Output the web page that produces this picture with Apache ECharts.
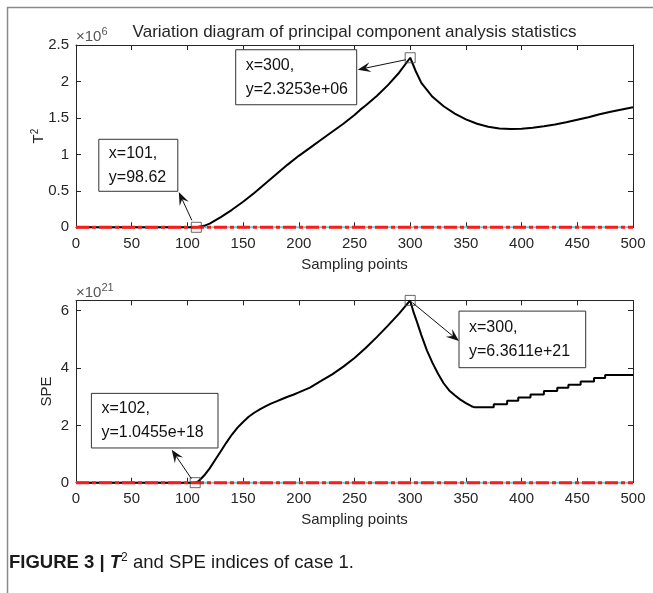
<!DOCTYPE html>
<html><head><meta charset="utf-8">
<script src="https://cdn.jsdelivr.net/npm/echarts@6/dist/echarts.min.js"></script>
<style>html,body{margin:0;padding:0;background:#fff}#c{width:653px;height:593px}</style>
</head><body><div id="c"></div>
<script>
// ---------- data ----------
const xTicks = [0, 50, 100, 150, 200, 250, 300, 350, 400, 450, 500];
const t2Ticks = [0, 0.5, 1, 1.5, 2, 2.5];           // ×10^6
const speTicks = [0, 2, 4, 6];                       // ×10^21

// T² statistic (×10^6)
const t2X = [0, 50, 100, 108, 115, 120, 130, 140, 150, 160, 170, 180, 190, 200, 210, 220, 230, 240, 250, 255, 260, 270, 280, 290, 300,
             305, 310, 320, 330, 340, 350, 360, 370, 380, 390, 400, 410, 420, 430, 440, 450, 460, 470, 480, 490, 500];
const t2Values = [0, 0, 0.0001, 0.0001, 0.02, 0.05, 0.14, 0.24, 0.35, 0.47, 0.6, 0.73, 0.86, 0.98, 1.09, 1.2, 1.31, 1.42, 1.54, 1.61, 1.67, 1.8, 1.95, 2.12, 2.3253,
             2.14, 1.98, 1.79, 1.66, 1.56, 1.48, 1.42, 1.38, 1.355, 1.348, 1.352, 1.365, 1.385, 1.41, 1.44, 1.475, 1.51, 1.55, 1.585, 1.615, 1.645];

// SPE statistic (×10^21)
const speX = [0, 100, 107, 110, 115, 120, 125, 130, 135, 140, 145, 150, 155, 160, 165, 170, 175, 180, 185, 190, 195, 200, 210, 220, 230, 240, 250, 260, 270, 280, 290, 300,
              303, 306, 310, 315, 320, 325, 330, 335, 340, 345, 350, 355, 358, 375,
              375, 387, 387, 397, 397, 408, 408, 420, 420, 432, 432, 442, 442, 453, 453, 465, 465, 475, 475, 500];
const speValues = [0, 0, 0.001, 0.05, 0.25, 0.5, 0.8, 1.1, 1.4, 1.68, 1.92, 2.12, 2.3, 2.44, 2.56, 2.66, 2.76, 2.84, 2.92, 3.0, 3.07, 3.15, 3.32, 3.55, 3.78, 4.05, 4.35, 4.7, 5.08, 5.48, 5.9, 6.3611,
              5.95, 5.62, 5.15, 4.62, 4.18, 3.8, 3.47, 3.22, 3.05, 2.9, 2.78, 2.67, 2.63, 2.63,
              2.74, 2.74, 2.86, 2.86, 2.97, 2.97, 3.08, 3.08, 3.2, 3.2, 3.31, 3.31, 3.42, 3.42, 3.53, 3.53, 3.65, 3.65, 3.76, 3.76];

// control limits (drawn at ~0 on these scales)
const limitX = [0, 500];
const t2Limit = [0, 0];
const speLimit = [0, 0];

// data tips
const t2TipX = [108, 300];
const t2TipY = [0.0000986, 2.3253];
const t2TipText = [['x=101,', 'y=98.62'], ['x=300,', 'y=2.3253e+06']];
const speTipX = [107, 300];
const speTipY = [0.0010455, 6.3611];
const speTipText = [['x=102,', 'y=1.0455e+18'], ['x=300,', 'y=6.3611e+21']];

// ---------- style / layout ----------
const FONT = 'Liberation Sans, Arial, Helvetica, sans-serif';
const INK = '#262626';
const pairs = (xs, ys) => xs.map((x, i) => [x, ys[i]]);

const gridTop = {left: 76, top: 45, width: 557, height: 182.3};
const gridBot = {left: 76, top: 300.4, width: 557, height: 182.3};

function xAx(gi, bottom) {
  return {
    type: 'value', gridIndex: gi, min: 0, max: 500, interval: 50,
    position: bottom ? 'bottom' : 'top',
    axisLine: {show: true, onZero: false, lineStyle: {color: INK, width: 1}},
    axisTick: {show: true, inside: true, length: 5, lineStyle: {color: INK}},
    axisLabel: {show: bottom, fontSize: 15, color: INK, fontFamily: FONT, margin: 9},
    splitLine: {show: false},
    name: bottom ? 'Sampling points' : '', nameLocation: 'middle', nameGap: 30, nameMoveOverlap: false,
    nameTextStyle: {fontSize: 15, color: INK, fontFamily: FONT}
  };
}
function yAx(gi, left, max, ticks, name, nameGap) {
  return {
    type: 'value', gridIndex: gi, min: 0, max: max,
    position: left ? 'left' : 'right',
    axisLine: {show: true, onZero: false, lineStyle: {color: INK, width: 1}},
    axisTick: {show: true, inside: true, length: 5, customValues: ticks, lineStyle: {color: INK}},
    axisLabel: {show: left, customValues: ticks, fontSize: 15, color: INK, fontFamily: FONT, margin: 7},
    splitLine: {show: false},
    name: left ? name : '', nameLocation: 'middle', nameGap: nameGap, nameRotate: 90, nameMoveOverlap: false,
    nameTextStyle: {fontSize: 15, color: INK, fontFamily: FONT,
      rich: {t: {fontSize: 15, color: INK, fontFamily: FONT}, s: {fontSize: 10, color: INK, fontFamily: FONT, verticalAlign: 'top', padding: [0, 0, 8, 0]}}}
  };
}

const chart = echarts.init(document.getElementById('c'), null, {renderer: 'canvas'});

const dashRed = {color: '#ff1a1a', width: 3, type: [13, 3, 4, 3]};

chart.setOption({
  animation: false,
  backgroundColor: '#fff',
  grid: [gridTop, gridBot],
  xAxis: [xAx(0, true), xAx(0, false), xAx(1, true), xAx(1, false)],
  yAxis: [
    yAx(0, true, 2.5, t2Ticks, '{t|T}{s|2}', 28),
    yAx(0, false, 2.5, t2Ticks, '', 0),
    yAx(1, true, 6.3611, speTicks, 'SPE', 22),
    yAx(1, false, 6.3611, speTicks, '', 0)
  ],
  series: [
    {type: 'line', xAxisIndex: 0, yAxisIndex: 0, data: pairs(limitX, t2Limit), symbol: 'none', clip: false, z: 2,
     lineStyle: {color: '#5fd3d8', width: 2}},
    {type: 'line', xAxisIndex: 0, yAxisIndex: 0, data: pairs(t2X, t2Values), symbol: 'none', clip: false, z: 3,
     lineStyle: {color: '#000', width: 2}},
    {type: 'line', xAxisIndex: 0, yAxisIndex: 0, data: pairs(limitX, t2Limit), symbol: 'none', clip: false, z: 4,
     lineStyle: dashRed},
    {type: 'scatter', xAxisIndex: 0, yAxisIndex: 0, data: pairs(t2TipX, t2TipY), symbol: 'rect', symbolSize: 10, z: 5,
     itemStyle: {color: 'rgba(0,0,0,0)', borderColor: '#444', borderWidth: 1}},

    {type: 'line', xAxisIndex: 2, yAxisIndex: 2, data: pairs(limitX, speLimit), symbol: 'none', clip: false, z: 2,
     lineStyle: {color: '#5fd3d8', width: 2}},
    {type: 'line', xAxisIndex: 2, yAxisIndex: 2, data: pairs(speX, speValues), symbol: 'none', clip: false, z: 3,
     lineStyle: {color: '#000', width: 2}},
    {type: 'line', xAxisIndex: 2, yAxisIndex: 2, data: pairs(limitX, speLimit), symbol: 'none', clip: false, z: 4,
     lineStyle: dashRed},
    {type: 'scatter', xAxisIndex: 2, yAxisIndex: 2, data: pairs(speTipX, speTipY), symbol: 'rect', symbolSize: 10, z: 5,
     itemStyle: {color: 'rgba(0,0,0,0)', borderColor: '#444', borderWidth: 1}}
  ]
});

// ---------- annotations (boxes placed relative to the data-tip anchors) ----------
const tipLayouts = [
  {grid: 0, box: [-97.5, -88, 79, 52], from: [-4.5, -7], to: [-17.5, -35.3]},
  {grid: 0, box: [-174.5, -8, 121, 55], from: [-4.5, 2], to: [-52.5, 12]},
  {grid: 1, box: [-103.8, -89.3, 126.6, 54.6], from: [-3.8, -4], to: [-23.5, -33]},
  {grid: 1, box: [48.8, 10.7, 126.7, 56.6], from: [2.2, 2.3], to: [48.8, 40.7]}
];
const tipSources = [
  [t2TipX[0], t2TipY[0], t2TipText[0]],
  [t2TipX[1], t2TipY[1], t2TipText[1]],
  [speTipX[0], speTipY[0], speTipText[0]],
  [speTipX[1], speTipY[1], speTipText[1]]
];

function arrowEls(x1, y1, x2, y2) {
  const ang = Math.atan2(y2 - y1, x2 - x1);
  const L = 13, Wd = 5, notch = 8;
  const c = Math.cos(ang), s = Math.sin(ang);
  const back = (d, off) => [x2 - d * c - off * s, y2 - d * s + off * c];
  return [
    {type: 'line', shape: {x1, y1, x2: back(notch, 0)[0], y2: back(notch, 0)[1]}, style: {stroke: '#111', lineWidth: 1}, z: 100},
    {type: 'polygon', shape: {points: [[x2, y2], back(L, Wd), back(notch, 0), back(L, -Wd)]}, style: {fill: '#111'}, z: 100}
  ];
}

const g = [];
tipSources.forEach((src, i) => {
  const lay = tipLayouts[i];
  const p = chart.convertToPixel({gridIndex: lay.grid}, [src[0], src[1]]);
  const [dx, dy, w, h] = lay.box;
  const bx = p[0] + dx, by = p[1] + dy;
  g.push({type: 'rect', shape: {x: bx, y: by, width: w, height: h}, style: {fill: '#fff', stroke: '#333', lineWidth: 1}, z: 90});
  g.push({type: 'text', x: bx + 10, y: by + h / 2, z: 91,
    style: {text: src[2].join('\n'), font: '16px ' + FONT, fill: '#111', lineHeight: 24, verticalAlign: 'middle', textAlign: 'left'}});
  g.push(...arrowEls(p[0] + lay.from[0], p[1] + lay.from[1], p[0] + lay.to[0], p[1] + lay.to[1]));
});

// title, exponent labels, frame and caption
g.push({type: 'text', x: 354.5, y: 32, z: 50,
  style: {text: 'Variation diagram of principal component analysis statistics', font: '17px ' + FONT, fill: INK, textAlign: 'center', verticalAlign: 'middle'}});
g.push({type: 'text', x: 76, y: 37, z: 50,
  style: {text: '{a|×10}{b|6}', verticalAlign: 'middle', rich: {a: {font: '15px ' + FONT, fill: '#555'}, b: {font: '11px ' + FONT, fill: '#555', verticalAlign: 'top', padding: [0, 0, 10, 0]}}}});
g.push({type: 'text', x: 76, y: 293, z: 50,
  style: {text: '{a|×10}{b|21}', verticalAlign: 'middle', rich: {a: {font: '15px ' + FONT, fill: '#555'}, b: {font: '11px ' + FONT, fill: '#555', verticalAlign: 'top', padding: [0, 0, 10, 0]}}}});
g.push({type: 'line', shape: {x1: 7, y1: 7.5, x2: 653, y2: 7.5}, style: {stroke: '#8a8a8a', lineWidth: 1.5}});
g.push({type: 'line', shape: {x1: 7.5, y1: 7, x2: 7.5, y2: 593}, style: {stroke: '#8a8a8a', lineWidth: 1.5}});
g.push({type: 'text', x: 9, y: 563, z: 50,
  style: {text: '{b|FIGURE 3 | }{bi|T}{sup|2}{n| and SPE indices of case 1.}', verticalAlign: 'middle',
    rich: {
      b: {font: 'bold 18.5px ' + FONT, fill: '#1a1a1a'},
      bi: {font: 'italic bold 18.5px ' + FONT, fill: '#1a1a1a'},
      sup: {font: '12px ' + FONT, fill: '#1a1a1a', verticalAlign: 'top', padding: [0, 0, 10, 0]},
      n: {font: '18.5px ' + FONT, fill: '#1a1a1a'}
    }}});
chart.setOption({graphic: g});
</script>
</body></html>
